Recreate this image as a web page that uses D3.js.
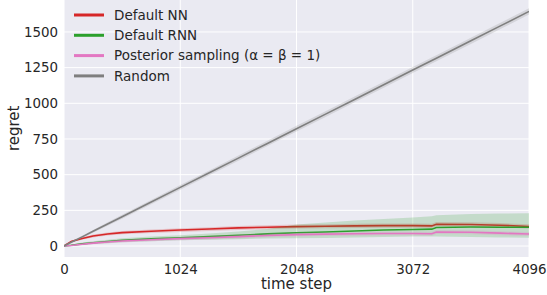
<!DOCTYPE html>
<html>
<head>
<meta charset="utf-8">
<script src="https://cdn.jsdelivr.net/npm/d3@7"></script>
<style>
  body { margin: 0; background: #fff; }
  text { font-family: "DejaVu Sans", sans-serif; fill: #262626; }
</style>
</head>
<body>
<div id="viz"></div>
<script>
const width = 547;
const height = 295;
const margin = {top: 0, right: 18, bottom: 38, left: 64};

// time steps shared by all series
const steps = [0, 64, 160, 256, 384, 512, 768, 1024, 1280, 1536, 1792, 2048, 2304, 2560, 2816, 3072, 3240, 3280, 3584, 3840, 4096];

const nnMean = [0, 32, 52, 70, 84, 94, 103, 112, 119, 127, 132, 136, 138, 141, 143, 143, 141, 153, 151, 146, 137];
const nnLo   = [0, 26, 44, 60, 73, 82, 91, 99, 106, 113, 118, 122, 124, 126, 128, 128, 126, 138, 136, 131, 122];
const nnHi   = [0, 38, 60, 80, 95, 106, 115, 125, 132, 141, 146, 150, 152, 156, 158, 158, 156, 168, 166, 161, 152];

const rnnMean = [0, 5, 15, 23, 32, 40, 50, 57, 66, 75, 85, 93, 98, 105, 112, 116, 118, 130, 133, 132, 131];
const rnnLo   = [0, 2, 8, 14, 20, 26, 34, 40, 44, 48, 52, 54, 57, 60, 64, 66, 66, 66, 64, 60, 58];
const rnnHi   = [0, 9, 24, 33, 44, 54, 66, 76, 88, 102, 120, 150, 165, 178, 190, 200, 208, 216, 224, 228, 230];

const psMean = [0, 4, 12, 20, 28, 35, 44, 52, 58, 66, 74, 80, 83, 86, 88, 88, 86, 98, 96, 90, 84];
const psLo   = [0, 0, 6, 12, 19, 25, 33, 40, 46, 53, 61, 67, 70, 72, 74, 74, 72, 84, 82, 76, 70];
const psHi   = [0, 8, 18, 28, 37, 45, 55, 64, 70, 79, 87, 93, 96, 100, 102, 102, 100, 112, 110, 104, 98];

const rndMean = [0, 26, 64, 103, 154, 205, 308, 411, 513, 616, 719, 822, 924, 1027, 1130, 1233, 1300, 1316, 1438, 1541, 1644];
const rndLo   = [0, 21, 56, 93, 142, 191, 293, 395, 496, 598, 700, 802, 904, 1007, 1109, 1212, 1279, 1295, 1416, 1519, 1622];
const rndHi   = [0, 31, 72, 113, 166, 219, 323, 427, 530, 634, 738, 842, 944, 1047, 1151, 1254, 1321, 1337, 1460, 1563, 1666];

const labels = ['Default NN', 'Default RNN', 'Posterior sampling (\u03b1 = \u03b2 = 1)', 'Random'];
const colors = ['#d62728', '#2ca02c', '#e377c2', '#7f7f7f'];

const xTicks = [0, 1024, 2048, 3072, 4096];
const yTicks = [0, 250, 500, 750, 1000, 1250, 1500];

const series = [
  {mean: nnMean, lo: nnLo, hi: nnHi},
  {mean: rnnMean, lo: rnnLo, hi: rnnHi},
  {mean: psMean, lo: psLo, hi: psHi},
  {mean: rndMean, lo: rndLo, hi: rndHi}
];

const svg = d3.select('#viz')
  .append('svg')
  .attr('width', width)
  .attr('height', height);

const xScale = d3.scaleLinear()
  .domain([0, 4096])
  .range([margin.left, width - margin.right]);

const yScale = d3.scaleLinear()
  .domain([-77, 1724])
  .range([height - margin.bottom, margin.top]);

// background
svg.append('rect')
  .attr('x', margin.left)
  .attr('y', margin.top)
  .attr('width', width - margin.left - margin.right)
  .attr('height', height - margin.top - margin.bottom)
  .attr('fill', '#eaeaf2');

svg.append('clipPath')
  .attr('id', 'plotclip')
  .append('rect')
  .attr('x', margin.left)
  .attr('y', margin.top)
  .attr('width', width - margin.left - margin.right)
  .attr('height', height - margin.top - margin.bottom);

// grid
const grid = svg.append('g');
grid.selectAll('.gx')
  .data(xTicks)
  .join('line')
    .attr('x1', d => xScale(d))
    .attr('x2', d => xScale(d))
    .attr('y1', margin.top)
    .attr('y2', height - margin.bottom)
    .attr('stroke', '#fff')
    .attr('stroke-width', 1);
grid.selectAll('.gy')
  .data(yTicks)
  .join('line')
    .attr('x1', margin.left)
    .attr('x2', width - margin.right)
    .attr('y1', d => yScale(d))
    .attr('y2', d => yScale(d))
    .attr('stroke', '#fff')
    .attr('stroke-width', 1);

// axes (no tick marks, no domain line)
const xAxis = svg.append('g')
  .attr('transform', `translate(0, ${height - margin.bottom})`)
  .call(d3.axisBottom(xScale).tickValues(xTicks).tickFormat(d3.format('d')).tickSize(0).tickPadding(7));
const yAxis = svg.append('g')
  .attr('transform', `translate(${margin.left}, 0)`)
  .call(d3.axisLeft(yScale).tickValues(yTicks).tickFormat(d3.format('d')).tickSize(0).tickPadding(6));
[xAxis, yAxis].forEach(a => {
  a.select('.domain').remove();
  a.selectAll('text')
    .attr('font-family', '"DejaVu Sans", sans-serif')
    .attr('font-size', 13.4)
    .attr('fill', '#262626');
});

svg.append('text')
  .attr('x', xScale(2048))
  .attr('y', 289)
  .attr('text-anchor', 'middle')
  .attr('font-size', 15)
  .text('time step');

svg.append('text')
  .attr('transform', `translate(19, ${yScale(825)}) rotate(-90)`)
  .attr('text-anchor', 'middle')
  .attr('font-size', 15)
  .text('regret');

// bands and lines
const plot = svg.append('g').attr('clip-path', 'url(#plotclip)');

const band = d3.area()
  .x((d, i) => xScale(steps[i]))
  .y0(d => yScale(d[0]))
  .y1(d => yScale(d[1]));

const line = d3.line()
  .x((d, i) => xScale(steps[i]))
  .y(d => yScale(d));

series.forEach((s, k) => {
  plot.append('path')
    .attr('d', band(s.lo.map((v, i) => [v, s.hi[i]])))
    .attr('fill', colors[k])
    .attr('fill-opacity', 0.2);
  plot.append('path')
    .attr('d', line(s.mean))
    .attr('fill', 'none')
    .attr('stroke', colors[k])
    .attr('stroke-width', 1.6);
});

// legend
const legend = svg.append('g')
  .selectAll('g')
  .data(labels)
  .join('g')
    .attr('transform', (d, i) => `translate(74, ${15 + i * 20.3})`);

legend.append('line')
  .attr('x1', 0)
  .attr('x2', 30)
  .attr('stroke', (d, i) => colors[i])
  .attr('stroke-width', 3);

legend.append('text')
  .attr('x', 40)
  .attr('dy', '0.35em')
  .attr('font-size', 13.5)
  .text(d => d);
</script>
</body>
</html>
